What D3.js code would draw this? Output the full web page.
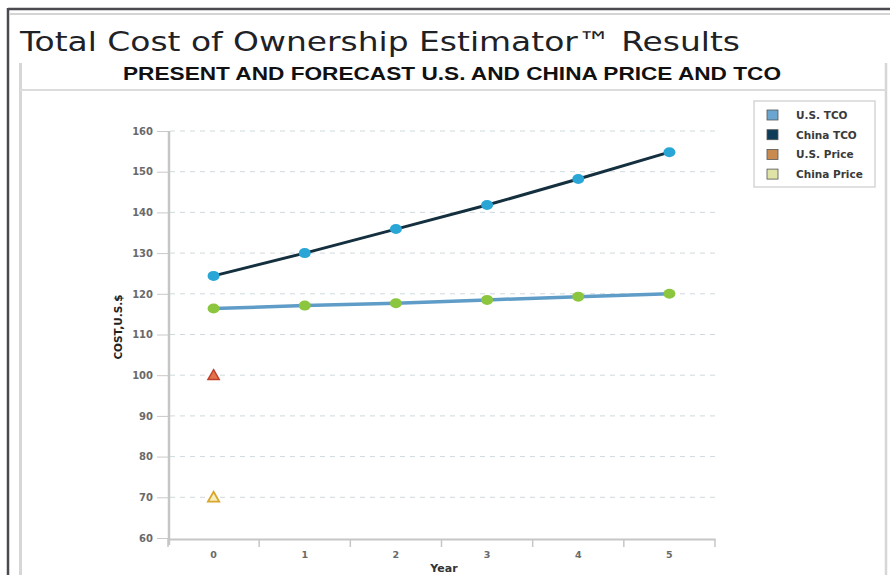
<!DOCTYPE html>
<html>
<head>
<meta charset="utf-8">
<script src="https://cdn.jsdelivr.net/npm/d3@7"></script>
<style>
    body { margin: 0; background: #fff; }
    svg { display: block; }
</style>
</head>
<body>
<svg id="chart"></svg>
<script>
const width = 890;
const height = 575;

const years = [0, 1, 2, 3, 4, 5];
const usTco = [116.4, 117.1, 117.7, 118.5, 119.3, 120.0];
const chinaTco = [124.4, 130.0, 135.9, 141.8, 148.2, 154.8];
const usPrice = [100];
const chinaPrice = [70];
const yTicks = [60, 70, 80, 90, 100, 110, 120, 130, 140, 150, 160];
const legendLabels = ['U.S. TCO', 'China TCO', 'U.S. Price', 'China Price'];
const legendColors = ['#6aa6cf', '#0f3c58', '#c98a50', '#dfe3a6'];

const font = '"DejaVu Sans", sans-serif';

const svg = d3.select('#chart')
    .attr('width', width)
    .attr('height', height);

// window frame
svg.append('rect').attr('x', 0).attr('y', 0).attr('width', width).attr('height', height).attr('fill', '#fff');
svg.append('line').attr('x1', 8).attr('x2', width).attr('y1', 9).attr('y2', 9)
    .attr('stroke', '#4a4a50').attr('stroke-width', 2.5);
svg.append('line').attr('x1', 8).attr('x2', 8).attr('y1', 8).attr('y2', height)
    .attr('stroke', '#4a4a50').attr('stroke-width', 2.5);
svg.append('line').attr('x1', 10).attr('x2', width).attr('y1', 14).attr('y2', 14)
    .attr('stroke', '#d4d4d4').attr('stroke-width', 2);

svg.append('text')
    .attr('x', 20).attr('y', 51)
    .attr('fill', '#1e2226')
    .attr('textLength', 720)
    .attr('lengthAdjust', 'spacingAndGlyphs')
    .style('font-family', font)
    .style('font-size', '27px')
    .text('Total Cost of Ownership Estimator\u2122 Results');

// inner panel
svg.append('line').attr('x1', 20.5).attr('x2', 20.5).attr('y1', 63).attr('y2', height)
    .attr('stroke', '#d6d6d6').attr('stroke-width', 3);
svg.append('line').attr('x1', 886).attr('x2', 886).attr('y1', 63).attr('y2', height)
    .attr('stroke', '#d6d6d6').attr('stroke-width', 2.5);
svg.append('line').attr('x1', 20).attr('x2', 886).attr('y1', 90).attr('y2', 90)
    .attr('stroke', '#dcdcdc').attr('stroke-width', 2);

svg.append('text')
    .attr('x', 452).attr('y', 80)
    .attr('text-anchor', 'middle')
    .attr('fill', '#111')
    .attr('textLength', 658)
    .attr('lengthAdjust', 'spacingAndGlyphs')
    .style('font-family', '"Liberation Sans Narrow", "Liberation Sans", Arial, sans-serif')
    .style('font-weight', 'bold')
    .style('font-size', '18px')
    .text('PRESENT AND FORECAST U.S. AND CHINA PRICE AND TCO');

// scales
const xScale = d3.scaleBand()
    .domain(years)
    .range([168, 715]);

const yScale = d3.scaleLinear()
    .domain([60, 160])
    .range([538, 131]);

const cx = d => xScale(d) + xScale.bandwidth() / 2;

// grid
svg.append('g')
    .selectAll('line')
    .data(yTicks.slice(1))
    .enter()
    .append('line')
    .attr('x1', 170).attr('x2', 715)
    .attr('y1', d => yScale(d)).attr('y2', d => yScale(d))
    .attr('stroke', '#cfd9dd')
    .attr('stroke-width', 1)
    .attr('stroke-dasharray', '5,5');

// y axis
const yAxis = d3.axisLeft(yScale)
    .tickValues(yTicks)
    .tickSize(11)
    .tickPadding(4);

const yAxisGroup = svg.append('g')
    .attr('transform', 'translate(168, 0)')
    .call(yAxis);

yAxisGroup.select('.domain').remove();
yAxisGroup.selectAll('line').attr('stroke', '#c9c9c9');
yAxisGroup.selectAll('text')
    .attr('fill', '#6a6a6a')
    .style('font-family', font)
    .style('font-weight', 'bold')
    .style('font-size', '10px');

svg.append('line')
    .attr('x1', 169).attr('x2', 169).attr('y1', 131).attr('y2', 545)
    .attr('stroke', '#c6c6c6').attr('stroke-width', 2.5);

// x axis
const xAxis = d3.axisBottom(xScale)
    .tickSize(0)
    .tickPadding(12);

const xAxisGroup = svg.append('g')
    .attr('transform', 'translate(0, 539)')
    .call(xAxis);

xAxisGroup.select('.domain')
    .attr('stroke', '#c6c6c6')
    .attr('stroke-width', 2);
xAxisGroup.selectAll('text')
    .attr('fill', '#6a6a6a')
    .style('font-family', font)
    .style('font-weight', 'bold')
    .style('font-size', '9.5px');

svg.append('g')
    .selectAll('line')
    .data(years.concat([6]))
    .enter()
    .append('line')
    .attr('x1', d => d < 6 ? xScale(d) : xScale(5) + xScale.bandwidth())
    .attr('x2', d => d < 6 ? xScale(d) : xScale(5) + xScale.bandwidth())
    .attr('y1', 539).attr('y2', 547)
    .attr('stroke', '#c6c6c6')
    .attr('stroke-width', 1.5);

svg.append('text')
    .attr('x', 444).attr('y', 572)
    .attr('text-anchor', 'middle')
    .attr('fill', '#333')
    .style('font-family', font)
    .style('font-weight', 'bold')
    .style('font-size', '11px')
    .text('Year');

svg.append('text')
    .attr('transform', 'translate(122, 327) rotate(-90)')
    .attr('text-anchor', 'middle')
    .attr('fill', '#222')
    .style('font-family', font)
    .style('font-weight', 'bold')
    .style('font-size', '10.5px')
    .text('COST,U.S.$');

// lines
const line = d3.line()
    .x((d, i) => cx(years[i]))
    .y(d => yScale(d));

svg.append('path')
    .datum(usTco)
    .attr('d', line)
    .attr('fill', 'none')
    .attr('stroke', '#5f9dc8')
    .attr('stroke-width', 3.5);

svg.append('path')
    .datum(chinaTco)
    .attr('d', line)
    .attr('fill', 'none')
    .attr('stroke', '#14303f')
    .attr('stroke-width', 3);

svg.append('g')
    .selectAll('ellipse')
    .data(usTco)
    .enter()
    .append('ellipse')
    .attr('cx', (d, i) => cx(years[i]))
    .attr('cy', d => yScale(d))
    .attr('rx', 6).attr('ry', 5)
    .attr('fill', '#8cc63f');

svg.append('g')
    .selectAll('ellipse')
    .data(chinaTco)
    .enter()
    .append('ellipse')
    .attr('cx', (d, i) => cx(years[i]))
    .attr('cy', d => yScale(d))
    .attr('rx', 6).attr('ry', 5)
    .attr('fill', '#29a6d6');

// price markers
const triangle = d3.symbol().type(d3.symbolTriangle).size(55);

svg.append('g')
    .selectAll('path')
    .data(usPrice)
    .enter()
    .append('path')
    .attr('d', triangle)
    .attr('transform', (d, i) => `translate(${cx(years[i])}, ${yScale(d) + 1})`)
    .attr('fill', '#e2734a')
    .attr('stroke', '#c0402a')
    .attr('stroke-width', 1.5);

svg.append('g')
    .selectAll('path')
    .data(chinaPrice)
    .enter()
    .append('path')
    .attr('d', triangle)
    .attr('transform', (d, i) => `translate(${cx(years[i])}, ${yScale(d) + 1})`)
    .attr('fill', '#f6eebe')
    .attr('stroke', '#d9a62c')
    .attr('stroke-width', 1.8);

// legend
const legend = svg.append('g')
    .attr('transform', 'translate(754, 101)');

legend.append('rect')
    .attr('width', 121).attr('height', 86)
    .attr('fill', '#fff')
    .attr('stroke', '#d6d6d6')
    .attr('stroke-width', 1.5);

const items = legend.selectAll('g.item')
    .data(legendLabels)
    .enter()
    .append('g')
    .attr('class', 'item')
    .attr('transform', (d, i) => `translate(0, ${14 + i * 19.7})`);

items.append('rect')
    .attr('x', 13).attr('y', -5)
    .attr('width', 11).attr('height', 10)
    .attr('fill', (d, i) => legendColors[i])
    .attr('stroke', '#555')
    .attr('stroke-width', 0.8);

items.append('text')
    .attr('x', 42).attr('y', 4)
    .attr('fill', '#3a3a3a')
    .style('font-family', font)
    .style('font-weight', 'bold')
    .style('font-size', '10.5px')
    .text(d => d);
</script>
</body>
</html>
